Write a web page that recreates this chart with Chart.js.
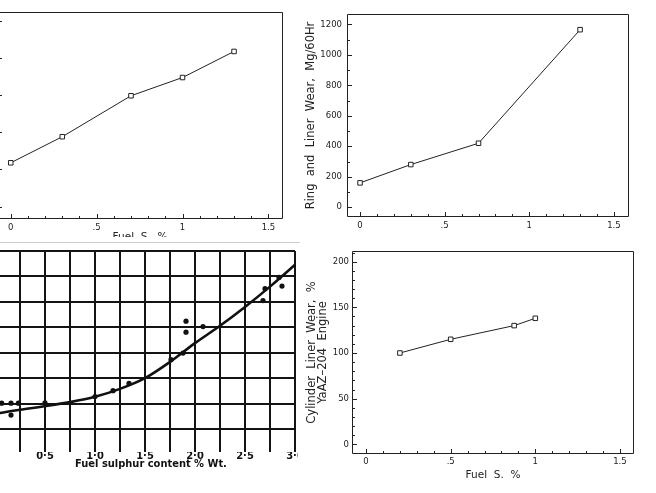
<!DOCTYPE html>
<html>
<head>
<meta charset="utf-8">
<script src="https://cdn.jsdelivr.net/npm/chart.js@4.4.1/dist/chart.umd.min.js"></script>
<style>
  html, body { margin:0; padding:0; background:#fff; }
  body { width:656px; height:493px; position:relative; overflow:hidden; }
  .clip { position:absolute; overflow:hidden; }
  canvas { position:absolute; }
  #t3 { position:absolute; left:0; width:302px; top:457px; line-height:14px; text-align:center;
        font: bold 11px 'Liberation Sans Narrow', 'DejaVu Sans Condensed', sans-serif; color:#111; white-space:nowrap; }
  #sep { position:absolute; left:0; top:242px; width:300px; height:0; border-top:1px solid #cfcfcf; }
</style>
</head>
<body>
<div class="clip" style="left:0;top:0;width:300px;height:237px;"><canvas id="c1" width="323" height="260" style="left:-40px;top:0;width:323px;height:260px"></canvas></div>
<div id="sep"></div>
<div class="clip" style="left:300px;top:0;width:356px;height:245px;"><canvas id="c2" width="356" height="245" style="left:0;top:0;width:356px;height:245px"></canvas></div>
<div class="clip" style="left:0;top:245px;width:298px;height:248px;"><canvas id="c3" width="328" height="248" style="left:-30px;top:0;width:328px;height:248px"></canvas></div>
<div id="t3">Fuel sulphur content % Wt.</div>
<div class="clip" style="left:300px;top:245px;width:356px;height:248px;"><canvas id="c4" width="356" height="248" style="left:0;top:0;width:356px;height:248px"></canvas></div>

<script>
// ---------------- DATA ----------------
// Panel 1 (top-left): wear vs fuel S %, y axis labels are cropped away (relative units)
const p1X = [0, 0.3, 0.7, 1.0, 1.3];
const p1Y = [1.18, 1.88, 2.98, 3.47, 4.17];

// Panel 2 (top-right): Ring and Liner Wear, Mg/60Hr
const p2X = [0, 0.3, 0.7, 1.3];
const p2Y = [160, 280, 420, 1165];

// Panel 3 (bottom-left): graph-paper plot, fuel sulphur content % Wt. (y in grid units)
const p3DotX = [0.067, 0.16, 0.233, 0.5, 0.16, 1.0, 1.18, 1.34, 1.76, 1.88, 1.91, 1.91, 2.08, 2.68, 2.70, 2.84, 2.87];
const p3DotY = [2.02, 2.02, 2.02, 2.03, 1.55, 2.28, 2.51, 2.80, 3.73, 3.99, 5.24, 4.81, 5.03, 6.05, 6.52, 6.96, 6.62];
const p3CurveX = [0, 0.25, 0.5, 0.75, 1.0, 1.25, 1.5, 1.75, 2.0, 2.25, 2.5, 2.75, 3.0, 3.05];
const p3CurveY = [1.6, 1.76, 1.9, 2.06, 2.27, 2.58, 3.0, 3.64, 4.38, 5.06, 5.8, 6.6, 7.46, 7.64];
const p3TickVals = [0.5, 1.0, 1.5, 2.0, 2.5, 3.0];
const p3TickText = ['0·5', '1·0', '1·5', '2·0', '2·5', '3·0'];

// Panel 4 (bottom-right): Cylinder Liner Wear, % YaAZ-204 Engine
const p4X = [0.2, 0.5, 0.875, 1.0];
const p4Y = [100, 115, 130, 138];

// ---------------- HELPERS ----------------
const FONT = "'DejaVu Sans', sans-serif";
const INK = '#222';

const frameTicks = {
  id: 'frameTicks',
  afterDatasetsDraw(chart, args, o) {
    if (!o || !o.box) return;
    const {ctx, chartArea: a} = chart;
    const xs = chart.scales.x, ys = chart.scales.y;
    ctx.save();
    ctx.lineWidth = 1;
    ctx.strokeStyle = INK;
    ctx.beginPath();
    ctx.rect(Math.round(a.left) + 0.5, Math.round(a.top) + 0.5, Math.round(a.right - a.left) - 1, Math.round(a.bottom - a.top) - 1);
    ctx.stroke();
    const seg = (x1, y1, x2, y2) => { ctx.beginPath(); ctx.moveTo(x1, y1); ctx.lineTo(x2, y2); ctx.stroke(); };
    if (o.xMinor) {
      for (let i = 0; i * o.xMinor <= xs.max + 1e-9; i++) {
        const v = i * o.xMinor;
        const major = Math.abs(v / o.xMajor - Math.round(v / o.xMajor)) < 1e-6;
        const p = Math.round(xs.getPixelForValue(v)) + 0.5;
        seg(p, a.bottom, p, a.bottom - (major ? 5 : 3));
      }
    }
    if (o.yMinor) {
      for (let i = 0; i * o.yMinor <= ys.max + 1e-9; i++) {
        const v = i * o.yMinor;
        const major = Math.abs(v / o.yMajor - Math.round(v / o.yMajor)) < 1e-6;
        const p = Math.round(ys.getPixelForValue(v)) + 0.5;
        seg(a.left, p, a.left + (major ? 5 : 3), p);
      }
    }
    ctx.restore();
  }
};
Chart.register(frameTicks);

const fmtX = v => { const s = String(Math.round(v * 100) / 100); return s.startsWith('0.') ? s.slice(1) : s; };
const fixX = h => s => { s.height = h; s.paddingLeft = 0; s.paddingRight = 0; };
const fixY = w => s => { s.width = w; s.paddingTop = 0; s.paddingBottom = 0; };

function boxChart(id, xs, ys, cfg) {
  return new Chart(document.getElementById(id), {
    type: 'line',
    data: { datasets: [{
      data: xs.map((x, i) => ({x, y: ys[i]})),
      borderColor: INK, borderWidth: 1, tension: 0, fill: false,
      pointStyle: 'rect', pointRadius: 3.2, pointBackgroundColor: '#fff',
      pointBorderColor: INK, pointBorderWidth: 1
    }]},
    options: {
      responsive: false, animation: false, devicePixelRatio: 1,
      layout: { padding: cfg.padding, autoPadding: false },
      plugins: { legend: {display: false}, tooltip: {enabled: false},
        frameTicks: { box: true, xMinor: 0.1, xMajor: 0.5, yMinor: cfg.yMinor, yMajor: cfg.yMajor } },
      scales: {
        x: {
          type: 'linear', min: cfg.xMin, max: cfg.xMax,
          afterFit: fixX(cfg.xH),
          grid: {display: false, drawTicks: false}, border: {display: false},
          ticks: { stepSize: 0.5, includeBounds: false, autoSkip: false, maxRotation: 0,
                   padding: cfg.xPad, color: INK, font: {family: FONT, size: 8.5}, callback: fmtX },
          title: { display: cfg.xTitle, text: 'Fuel  S.  %', color: INK,
                   font: {family: FONT, size: 10.5, lineHeight: 1.2}, padding: {top: 0, bottom: cfg.xTitlePad} }
        },
        y: {
          type: 'linear', min: cfg.yMin, max: cfg.yMax,
          afterFit: fixY(cfg.yW),
          grid: {display: false, drawTicks: false}, border: {display: false},
          ticks: { display: cfg.yLabels, stepSize: cfg.yMajor, includeBounds: false, autoSkip: false,
                   padding: cfg.yPad, color: INK, font: {family: FONT, size: 8.5}, callback: v => String(v) },
          title: { display: !!cfg.yTitle, text: cfg.yTitle, color: INK,
                   font: {family: FONT, size: 11.5, lineHeight: cfg.yTitleLH || 1.2}, padding: {top: cfg.yTitlePad || 0, bottom: 0} }
        }
      }
    }
  });
}

// Panel 1
boxChart('c1', p1X, p1Y, {
  padding: {left: 0, right: 0, top: 12, bottom: 0},
  xMin: -0.08, xMax: 1.585, yMin: -0.33, yMax: 5.23,
  xH: 41, yW: 37, xPad: 4, xTitle: true, xTitlePad: 16,
  yMinor: 0.5, yMajor: 1, yLabels: false, yPad: 4, yTitle: ''
});

// Panel 2
boxChart('c2', p2X, p2Y, {
  padding: {left: 0, right: 27, top: 14, bottom: 0},
  xMin: -0.077, xMax: 1.589, yMin: -64, yMax: 1268,
  xH: 28, yW: 47, xPad: 3.5, xTitle: false, xTitlePad: 0,
  yMinor: 100, yMajor: 200, yLabels: true, yPad: 5,
  yTitle: 'Ring  and  Liner  Wear,  Mg/60Hr', yTitlePad: 4.6
});

// Panel 4
boxChart('c4', p4X, p4Y, {
  padding: {left: 0, right: 22, top: 6, bottom: 0},
  xMin: -0.083, xMax: 1.583, yMin: -10.6, yMax: 211.7,
  xH: 39, yW: 52, xPad: 3, xTitle: true, xTitlePad: 11.7,
  yMinor: 10, yMajor: 50, yLabels: true, yPad: 3,
  yTitle: ['Cylinder  Liner  Wear,  %', 'YaAZ\u2013204  Engine'], yTitleLH: 0.957, yTitlePad: 6.5
});

// Panel 3 (graph paper)
const P3FONT = "'Liberation Sans Narrow', 'DejaVu Sans Condensed', sans-serif";
new Chart(document.getElementById('c3'), {
  type: 'scatter',
  data: { datasets: [
    { type: 'line', data: p3CurveX.map((x, i) => ({x, y: p3CurveY[i]})),
      borderColor: '#111', borderWidth: 2.6, pointRadius: 0, fill: false,
      cubicInterpolationMode: 'monotone' },
    { data: p3DotX.map((x, i) => ({x, y: p3DotY[i]})),
      pointRadius: 2.6, pointBackgroundColor: '#111', pointBorderColor: '#111', pointBorderWidth: 0 }
  ]},
  options: {
    responsive: false, animation: false, devicePixelRatio: 1,
    layout: { padding: {left: 10, right: 3, top: 6, bottom: 0}, autoPadding: false },
    plugins: { legend: {display: false}, tooltip: {enabled: false} },
    scales: {
      x: {
        type: 'linear', min: -0.15, max: 3.0,
        afterFit: fixX(41),
        grid: { color: '#141414', lineWidth: 2, drawTicks: false }, border: {display: false},
        ticks: { stepSize: 0.25, includeBounds: false, autoSkip: false, maxRotation: 0, padding: -2,
                 color: '#111', font: {family: P3FONT, size: 11, weight: 'bold'},
                 callback: v => { const k = p3TickVals.findIndex(t => Math.abs(t - v) < 1e-6); return k >= 0 ? p3TickText[k] : ''; } }
      },
      y: {
        type: 'linear', min: 0.1, max: 8,
        afterFit: fixY(0),
        grid: { color: '#141414', lineWidth: 2, drawTicks: false }, border: {display: false},
        ticks: { display: false, stepSize: 1, includeBounds: false }
      }
    }
  }
});
</script>
</body>
</html>
